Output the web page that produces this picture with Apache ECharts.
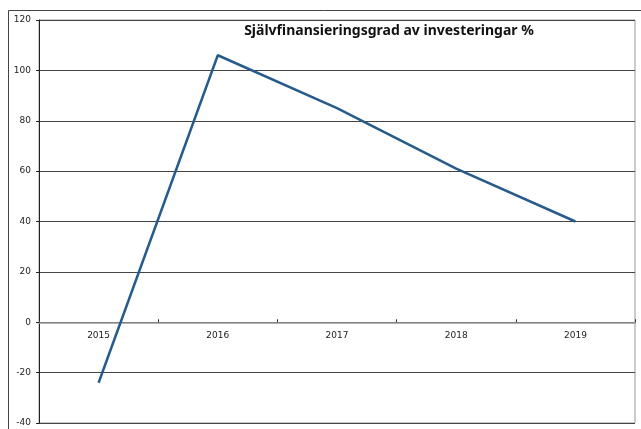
<!DOCTYPE html>
<html>
<head>
<meta charset="utf-8">
<script src="https://cdn.jsdelivr.net/npm/echarts@6/dist/echarts.min.js"></script>
<style>
  html, body { margin: 0; padding: 0; background: #fff; }
  #chart { width: 641px; height: 429px; }
</style>
</head>
<body>
<div id="chart"></div>
<script>
var years = ['2015', '2016', '2017', '2018', '2019'];
var values = [-24, 106, 85, 61, 40];
var titleText = 'Självfinansieringsgrad av investeringar %';

var myChart = echarts.init(document.getElementById('chart'));
var option = {
  animation: false,
  graphic: [
    {
      // outer chart frame
      type: 'polyline',
      shape: { points: [[8.5, 429], [8.5, 10.5], [641, 10.5]] },
      style: { stroke: '#444', lineWidth: 1, fill: null }
    },
    {
      type: 'text',
      x: 389, y: 31,
      style: {
        text: titleText,
        fontFamily: 'Noto Sans',
        fontWeight: 'bold',
        fontSize: 14,
        fill: '#111',
        align: 'center',
        verticalAlign: 'middle'
      }
    }
  ],
  grid: {
    left: 39, right: 6, top: 20, bottom: 6,
    containLabel: false,
    outerBoundsMode: 'none',
    show: true,
    borderColor: '#999',
    borderWidth: 1
  },
  xAxis: [
    {
      type: 'category',
      data: years,
      axisLine: { onZero: true, lineStyle: { color: '#999', width: 1.5 } },
      axisTick: { show: true, inside: true, length: 3, lineStyle: { color: '#333' } },
      axisLabel: { show: false },
      splitLine: { show: false }
    },
    {
      // labels sit just under the zero line
      type: 'category',
      data: years,
      position: 'bottom',
      offset: -101,
      axisLine: { show: false, onZero: false },
      axisTick: { show: false },
      axisLabel: { fontSize: 9, color: '#222', margin: 9, fontFamily: 'DejaVu Sans' },
      splitLine: { show: false }
    }
  ],
  yAxis: {
    type: 'value',
    min: -40, max: 120, interval: 20,
    axisLine: { show: true, lineStyle: { color: '#222' } },
    axisTick: { show: true, length: 3, lineStyle: { color: '#222' } },
    axisLabel: { fontSize: 9, color: '#222', margin: 8, fontFamily: 'DejaVu Sans' },
    splitLine: { show: true, lineStyle: { color: '#444', width: 1 } }
  },
  series: [
    {
      type: 'line',
      data: values,
      symbol: 'none',
      lineStyle: { color: '#275b8c', width: 2.5 }
    }
  ]
};
option && myChart.setOption(option);
</script>
</body>
</html>
